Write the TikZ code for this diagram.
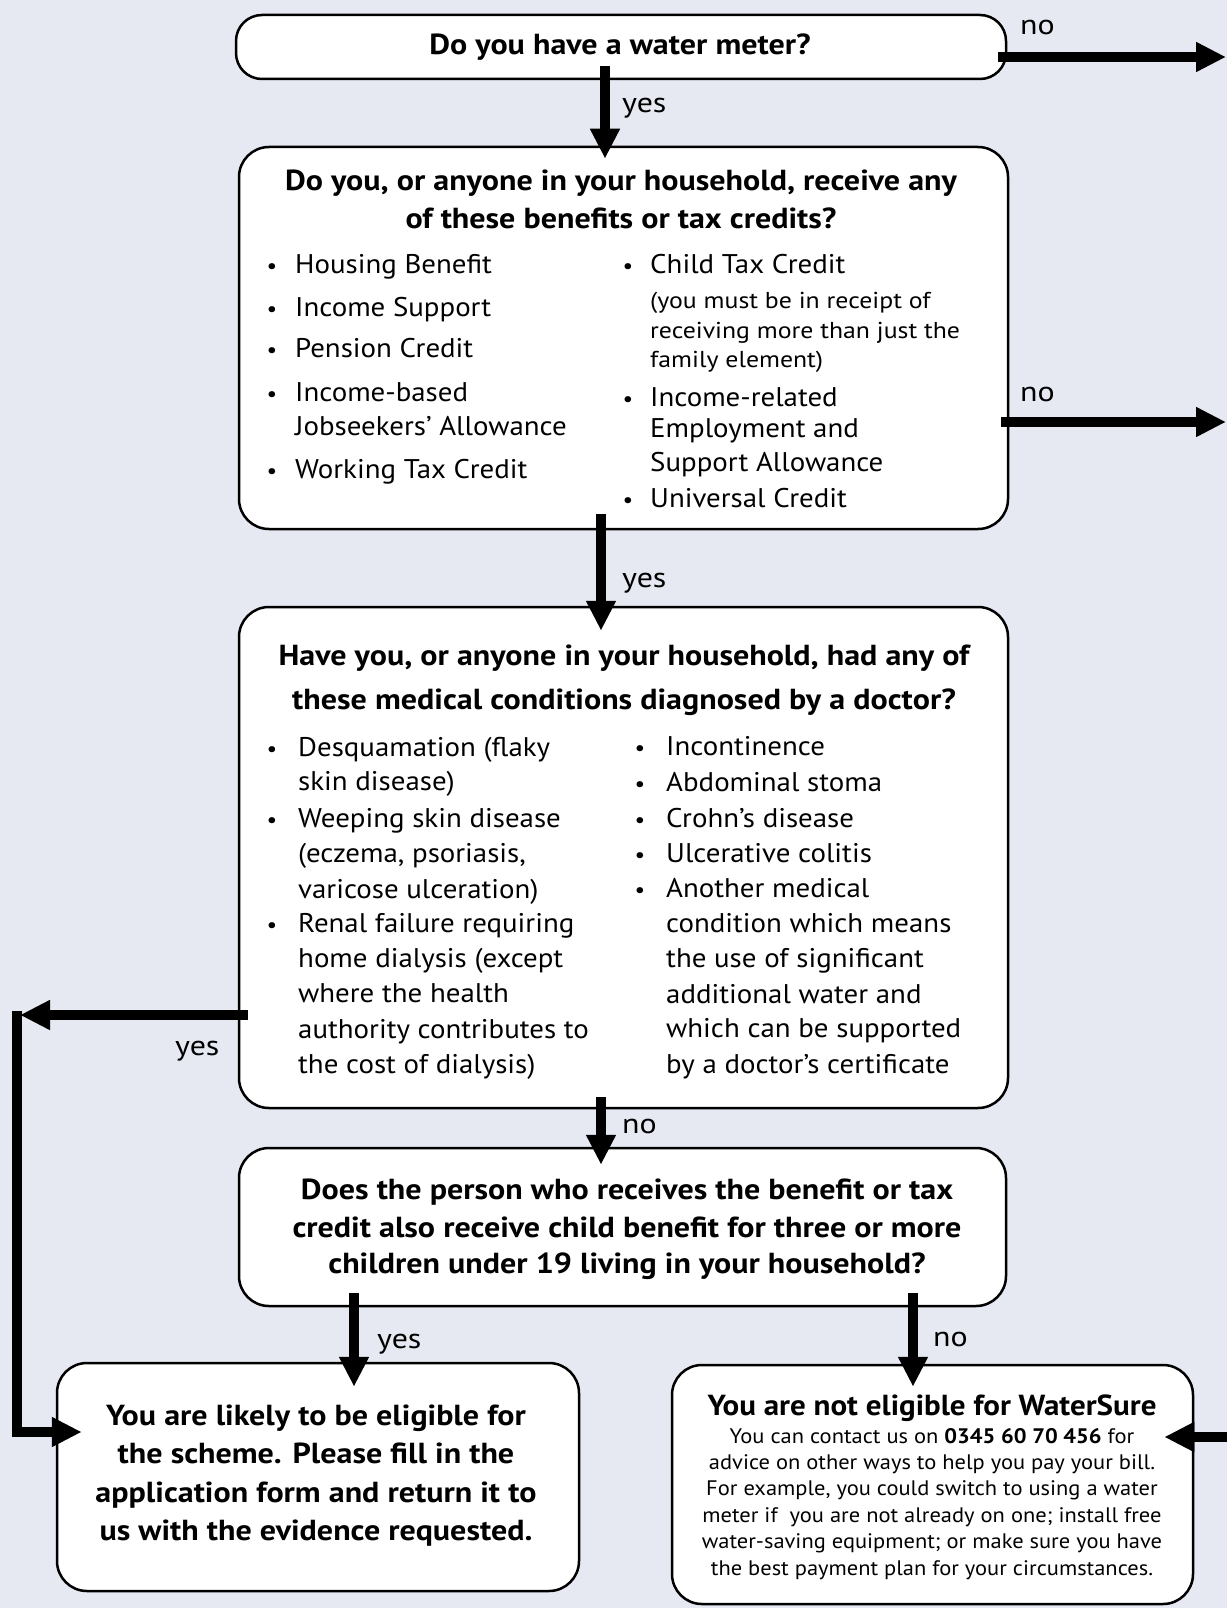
\documentclass[tikz,border=0pt]{standalone}
\usepackage{fontspec}
\setmainfont{PT Sans}
\newfontfamily\fttl{PT Sans}[FakeStretch=1.105]
\newfontfamily\fitm{PT Sans}[FakeStretch=1.07]
\newfontfamily\fsml{PT Sans}[FakeStretch=1.12]
\newfontfamily\fbody{PT Sans}[FakeStretch=1.07]
\newfontfamily\flbl{PT Sans}[FakeStretch=1.14]
\usetikzlibrary{arrows.meta}
\definecolor{bgc}{RGB}{230,233,242}
\tikzset{
  box/.style={draw=black, line width=2.5pt, fill=white, rounded corners=30pt, inner sep=0pt},
  arr/.style={line width=10pt, -{Triangle[length=30pt,width=28pt]}},
  ttl/.style={anchor=base, inner sep=0pt, font=\fttl\fontsize{29}{34}\selectfont\bfseries},
  ttlb/.style={anchor=base, inner sep=0pt, font=\fbody\fontsize{29}{34}\selectfont\bfseries},
  itm/.style={anchor=base west, inner sep=0pt, font=\fitm\fontsize{27}{32}\selectfont},
  sml/.style={anchor=base west, inner sep=0pt, font=\fsml\fontsize{23}{28}\selectfont},
  bul/.style={anchor=base, inner sep=0pt, font=\fitm\fontsize{22}{26}\selectfont},
  lbl/.style={anchor=base west, inner sep=0pt, font=\flbl\fontsize{28}{32}\selectfont},
  bodytxt/.style={anchor=base, inner sep=0pt, font=\fbody\fontsize{21}{26}\selectfont},
}
\begin{document}
\begin{tikzpicture}[x=1pt,y=-1pt]
\useasboundingbox (0,0) rectangle (1227,1608);
\fill[bgc] (0,0) rectangle (1227,1608);

% boxes
\node[box, rounded corners=26pt, minimum width=770pt, minimum height=64pt] (b1) at (621,47) {};
\node[box, minimum width=769pt, minimum height=382pt] (b2) at (623.5,338) {};
\node[box, minimum width=769pt, minimum height=501pt] (b3) at (623.5,857.5) {};
\node[box, minimum width=767pt, minimum height=158pt] (b4) at (622.5,1227) {};
\node[box, minimum width=522pt, minimum height=228pt] (b5) at (318,1477) {};
\node[box, minimum width=521pt, minimum height=239pt] (b6) at (932.5,1484.5) {};

% free ends
\coordinate (o1) at (1226,57);
\coordinate (o2) at (1226,422);
\coordinate (c1) at (20,1015);
\coordinate (c2) at (17,1011);
\coordinate (o3) at (1227,1437);

% connectors
\draw[arr] ([xshift=-16pt,yshift=14pt]b1.south) -- ([xshift=-18.5pt,yshift=-13pt]b2.north);
\draw[arr] ([xshift=-9pt,yshift=-10pt]b1.east) -- (o1);
\draw[arr] ([xshift=-8pt,yshift=-84pt]b2.east) -- (o2);
\draw[arr] ([xshift=-22.5pt,yshift=16pt]b2.south) -- ([xshift=-22.5pt,yshift=-25pt]b3.north);
\draw[arr] ([xshift=10pt,yshift=-157.5pt]b3.west) -- (c1);
\draw[arr] (c2) |- ([xshift=26pt,yshift=45pt]b5.west);
\draw[arr] ([xshift=-22.5pt,yshift=12pt]b3.south) -- ([xshift=-21.5pt,yshift=-18pt]b4.north);
\draw[arr] ([xshift=-268.5pt,yshift=14pt]b4.south) -- ([xshift=36pt,yshift=-25pt]b5.north);
\draw[arr] ([xshift=290.5pt,yshift=14pt]b4.south) -- ([xshift=-19.5pt,yshift=-23pt]b6.north);
\draw[arr] (o3) -- ([xshift=-30pt,yshift=47.5pt]b6.east);

% connector labels
\node[lbl] (l1) at (1020,35) {no};
\node[lbl] (l2) at (622,113) {yes};
\node[lbl] (l3) at (1020,401) {no};
\node[lbl] (l4) at (622,587) {yes};
\node[lbl] (l5) at (175,1055) {yes};
\node[lbl] (l6) at (622,1133) {no};
\node[lbl] (l7) at (377,1348) {yes};
\node[lbl] (l8) at (933,1346) {no};

% box 1
\node[ttl] (t1) at (620,55) {Do you have a water meter?};

% box 2
\node[ttl] (t2a) at (621,191) {Do you, or anyone in your household, receive any};
\node[ttl] (t2b) at (621,228) {of these benefits or tax credits?};
\node[bul] (u21) at (272,273) {\textbullet};
\node[itm] (i21) at (295,273) {Housing Benefit};
\node[bul] (u22) at (272,316) {\textbullet};
\node[itm] (i22) at (295,316) {Income Support};
\node[bul] (u23) at (272,357) {\textbullet};
\node[itm] (i23) at (295,357) {Pension Credit};
\node[bul] (u24) at (272,401) {\textbullet};
\node[itm] (i24) at (295,401) {Income-based};
\node[itm] (i24b) at (295,435) {Jobseekers’ Allowance};
\node[bul] (u25) at (272,478) {\textbullet};
\node[itm] (i25) at (295,478) {Working Tax Credit};
\node[bul] (u26) at (628,273) {\textbullet};
\node[itm] (i26) at (650,273) {Child Tax Credit};
\node[sml] (s26a) at (650,308) {(you must be in receipt of};
\node[sml] (s26b) at (650,338) {receiving more than just the};
\node[sml] (s26c) at (650,367) {family element)};
\node[bul] (u27) at (628,406) {\textbullet};
\node[itm] (i27) at (650,406) {Income-related};
\node[itm] (i27b) at (650,437) {Employment and};
\node[itm] (i27c) at (650,471) {Support Allowance};
\node[bul] (u28) at (628,507) {\textbullet};
\node[itm] (i28) at (650,507) {Universal Credit};

% box 3
\node[ttl] (t3a) at (624,665) {Have you, or anyone in your household, had any of};
\node[ttl] (t3b) at (624,709) {these medical conditions diagnosed by a doctor?};
\node[bul] (u31) at (272,756) {\textbullet};
\node[itm] (i31) at (298,756) {Desquamation (flaky};
\node[itm] (i31b) at (298,790) {skin disease)};
\node[bul] (u32) at (272,827) {\textbullet};
\node[itm] (i32) at (298,827) {Weeping skin disease};
\node[itm] (i32b) at (298,862) {(eczema, psoriasis,};
\node[itm] (i32c) at (298,898) {varicose ulceration)};
\node[bul] (u33) at (272,932) {\textbullet};
\node[itm] (i33) at (298,932) {Renal failure requiring};
\node[itm] (i33b) at (298,967) {home dialysis (except};
\node[itm] (i33c) at (298,1002) {where the health};
\node[itm] (i33d) at (298,1038) {authority contributes to};
\node[itm] (i33e) at (298,1073) {the cost of dialysis)};
\node[bul] (u34) at (640,755) {\textbullet};
\node[itm] (i34) at (666,755) {Incontinence};
\node[bul] (u35) at (640,791) {\textbullet};
\node[itm] (i35) at (666,791) {Abdominal stoma};
\node[bul] (u36) at (640,827) {\textbullet};
\node[itm] (i36) at (666,827) {Crohn’s disease};
\node[bul] (u37) at (640,862) {\textbullet};
\node[itm] (i37) at (666,862) {Ulcerative colitis};
\node[bul] (u38) at (640,897) {\textbullet};
\node[itm] (i38) at (666,897) {Another medical};
\node[itm] (i38b) at (666,932) {condition which means};
\node[itm] (i38c) at (666,967) {the use of significant};
\node[itm] (i38d) at (666,1003) {additional water and};
\node[itm] (i38e) at (666,1037) {which can be supported};
\node[itm] (i38f) at (666,1073) {by a doctor’s certificate};

% box 4
\node[ttl] (t4a) at (627,1199) {Does the person who receives the benefit or tax};
\node[ttl] (t4b) at (627,1237) {credit also receive child benefit for three or more};
\node[ttl] (t4c) at (627,1273) {children under 19 living in your household?};

% box 5
\node[ttl] (t5a) at (316,1425) {You are likely to be eligible for};
\node[ttl] (t5b) at (316,1463) {the scheme. Please fill in the};
\node[ttl] (t5c) at (316,1502) {application form and return it to};
\node[ttl] (t5d) at (316,1540) {us with the evidence requested.};

% box 6
\node[ttlb] (t6) at (932,1415) {You are not eligible for WaterSure};
\node[bodytxt] (d1) at (932,1443) {You can contact us on \textbf{0345 60 70 456} for};
\node[bodytxt] (d2) at (932,1469) {advice on other ways to help you pay your bill.};
\node[bodytxt] (d3) at (932,1495) {For example, you could switch to using a water};
\node[bodytxt] (d4) at (932,1522) {meter if\ \ you are not already on one; install free};
\node[bodytxt] (d5) at (932,1548) {water-saving equipment; or make sure you have};
\node[bodytxt] (d6) at (932,1575) {the best payment plan for your circumstances.};
\end{tikzpicture}
\end{document}
